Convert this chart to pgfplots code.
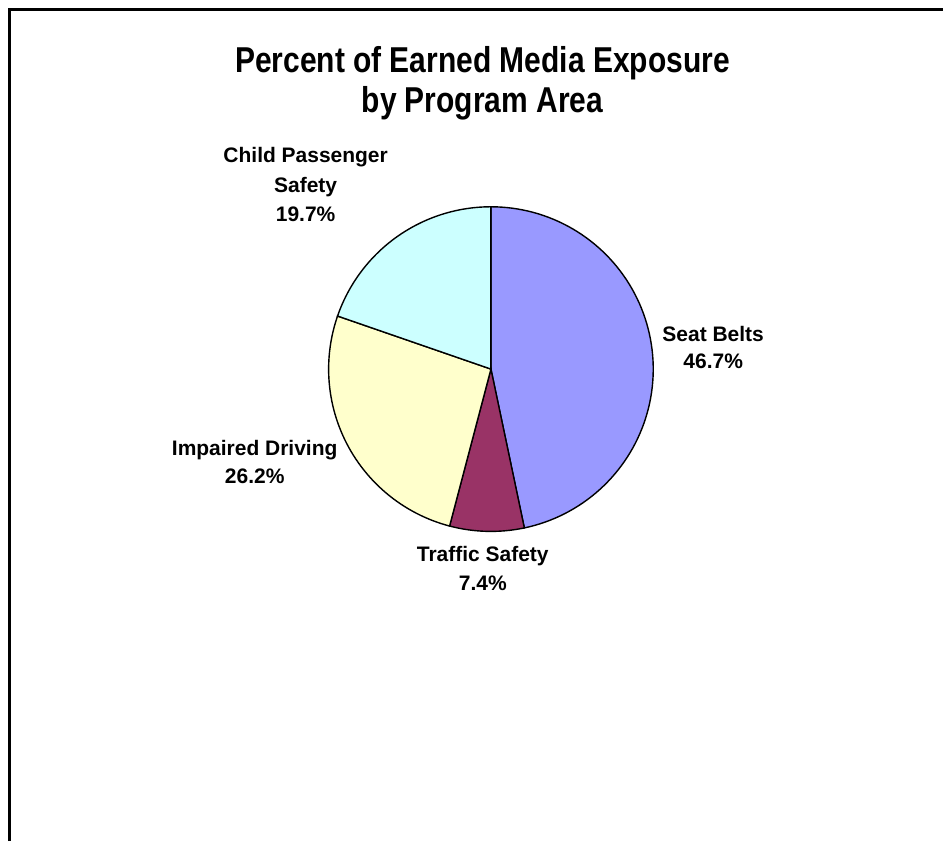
\documentclass[border=0pt]{standalone}
\usepackage{pgfplots}
\pgfplotsset{compat=1.18}
\usepackage{fontspec}
\setmainfont{Liberation Sans}
\definecolor{cSB}{HTML}{9999FF}
\definecolor{cTS}{HTML}{993366}
\definecolor{cID}{HTML}{FFFFCC}
\definecolor{cCP}{HTML}{CCFFFF}
\begin{document}
\begin{tikzpicture}
% data (percent)
\def\vSB{46.7}
\def\vTS{7.4}
\def\vID{26.2}
\def\vCP{19.7}
% cumulative angles, clockwise from 12 o'clock
\pgfmathsetmacro{\aA}{90}
\pgfmathsetmacro{\aB}{\aA-3.6*\vSB}
\pgfmathsetmacro{\aC}{\aB-3.6*\vTS}
\pgfmathsetmacro{\aD}{\aC-3.6*\vID}
\pgfmathsetmacro{\aE}{\aD-3.6*\vCP}
\def\cx{491.5}
\def\cy{369.5}
\def\r{162.5}
\begin{axis}[scale only axis, width=472pt, height=421pt,
  xmin=0, xmax=944, ymin=0, ymax=842, y dir=reverse,
  hide axis, clip=false, no markers]
\path (axis cs:0,0) rectangle (axis cs:944,842);
% frame
\draw[line width=1.1pt] (axis cs:9.5,842) -- (axis cs:9.5,9.5) -- (axis cs:944,9.5);
% slices
\addplot[fill=cSB, draw=black, line width=0.7pt, domain=\aB:\aA, samples=90, variable=\t]
  ({\cx+\r*cos(\t)},{\cy-\r*sin(\t)}) -- (axis cs:\cx,\cy) -- cycle;
\addplot[fill=cTS, draw=black, line width=0.7pt, domain=\aC:\aB, samples=30, variable=\t]
  ({\cx+\r*cos(\t)},{\cy-\r*sin(\t)}) -- (axis cs:\cx,\cy) -- cycle;
\addplot[fill=cID, draw=black, line width=0.7pt, domain=\aD:\aC, samples=60, variable=\t]
  ({\cx+\r*cos(\t)},{\cy-\r*sin(\t)}) -- (axis cs:\cx,\cy) -- cycle;
\addplot[fill=cCP, draw=black, line width=0.7pt, domain=\aE:\aD, samples=50, variable=\t]
  ({\cx+\r*cos(\t)},{\cy-\r*sin(\t)}) -- (axis cs:\cx,\cy) -- cycle;
% title
\node[anchor=base, font=\bfseries\fontsize{15}{18}\selectfont] at (axis cs:483,73) {\scalebox{1}[1.2]{Percent of Earned Media Exposure}};
\node[anchor=base, font=\bfseries\fontsize{15}{18}\selectfont] at (axis cs:483,112.5) {\scalebox{1}[1.2]{by Program Area}};
% labels
\tikzset{lab/.style={anchor=base, font=\bfseries\fontsize{10.5}{12}\selectfont}}
\node[lab] at (axis cs:306,162.7) {Child Passenger};
\node[lab] at (axis cs:306,192.7) {Safety};
\node[lab] at (axis cs:306,221.7) {19.7\%};
\node[lab] at (axis cs:714,341.7) {Seat Belts};
\node[lab] at (axis cs:714,369) {46.7\%};
\node[lab] at (axis cs:255,456) {Impaired Driving};
\node[lab] at (axis cs:255,484) {26.2\%};
\node[lab] at (axis cs:483.3,561.7) {Traffic Safety};
\node[lab] at (axis cs:483.3,590.7) {7.4\%};
\end{axis}
\end{tikzpicture}
\end{document}
